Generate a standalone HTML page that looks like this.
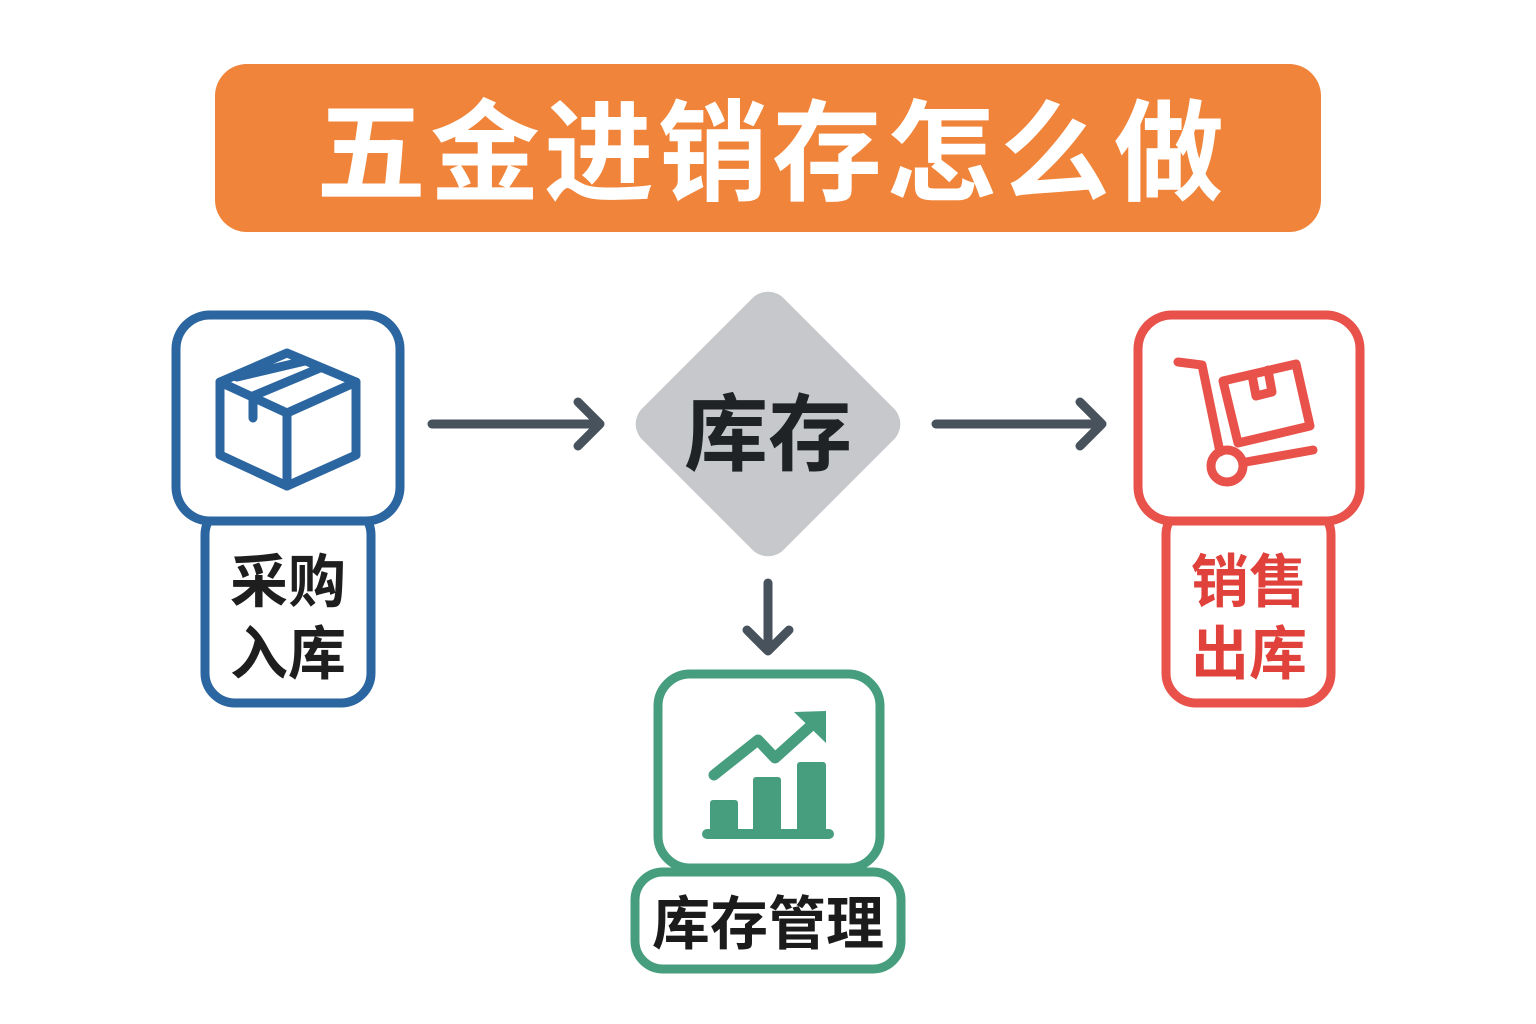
<!DOCTYPE html>
<html><head><meta charset="utf-8"><style>
html,body{margin:0;padding:0;background:#fff;}
svg{display:block;}
text{font-family:"Liberation Sans","Noto Sans CJK SC",sans-serif;font-weight:bold;}
</style></head><body>
<svg width="1536" height="1024" viewBox="0 0 1536 1024" xmlns="http://www.w3.org/2000/svg">
<rect x="0" y="0" width="1536" height="1024" fill="#fff"/>
<!-- Title -->
<rect x="215" y="64" width="1106" height="168" rx="32" fill="#F0843A"/>
<text x="772" y="192" font-size="110" fill="#fff" text-anchor="middle" letter-spacing="4">五金进销存怎么做</text>

<!-- Blue card -->
<g fill="none" stroke="#2B66A0" stroke-width="9" stroke-linejoin="round" stroke-linecap="round">
<rect x="205" y="505" width="166" height="198" rx="30" fill="#fff"/>
<rect x="176" y="315" width="224" height="206" rx="34" fill="#fff"/>
<polygon points="287,353 220,382 220,455 287,486 356,455 356,382"/>
<polyline points="220,382 287,413 356,382"/>
<line x1="287" y1="413" x2="287" y2="486"/>
<line x1="237" y1="377" x2="305" y2="361"/>
<line x1="253" y1="396" x2="320" y2="368"/>
<line x1="253" y1="396" x2="253" y2="418"/>
</g>
<text x="288" y="602" font-size="58" fill="#1e1e1e" text-anchor="middle">采购</text>
<text x="288" y="674" font-size="58" fill="#1e1e1e" text-anchor="middle">入库</text>

<!-- Arrows -->
<g fill="none" stroke="#47525C" stroke-width="9" stroke-linecap="round" stroke-linejoin="round">
<line x1="432" y1="424" x2="598" y2="424"/>
<polyline points="578,402 600,424 578,446"/>
<line x1="936" y1="424" x2="1100" y2="424"/>
<polyline points="1080,402 1102,424 1080,446"/>
<line x1="768" y1="583" x2="768" y2="650"/>
<polyline points="747,630 768,651 789,630"/>
</g>

<!-- Diamond -->
<rect x="668" y="324" width="200" height="200" rx="22" fill="#C6C8CB" transform="rotate(45 768 424)"/>
<text x="768" y="464" font-size="84" fill="#1f2326" text-anchor="middle">库存</text>

<!-- Green card -->
<g fill="none" stroke="#479E7F" stroke-width="9" stroke-linejoin="round" stroke-linecap="round">
<rect x="635" y="872" width="266" height="97" rx="28" fill="#fff"/>
<rect x="658" y="674" width="222" height="194" rx="32" fill="#fff"/>
</g>
<g fill="#479E7F">
<rect x="710" y="800" width="28" height="33" rx="3"/>
<rect x="753" y="777" width="28" height="56" rx="3"/>
<rect x="797" y="762" width="29" height="71" rx="3"/>
<rect x="702" y="829" width="132" height="10" rx="5"/>
<polygon points="794,712 826,711 826,743"/>
</g>
<polyline points="714,775 758,740 775,758 815,722" fill="none" stroke="#479E7F" stroke-width="11" stroke-linecap="round" stroke-linejoin="round"/>
<text x="768" y="944" font-size="58" fill="#1b1b1b" text-anchor="middle">库存管理</text>

<!-- Red card -->
<g fill="none" stroke="#E8524A" stroke-width="9" stroke-linejoin="round" stroke-linecap="round">
<rect x="1166" y="505" width="165" height="198" rx="30" fill="#fff"/>
<rect x="1138" y="315" width="222" height="206" rx="34" fill="#fff"/>
<polyline points="1178,362 1202,365 1220,452"/>
<circle cx="1227" cy="466" r="16"/>
<line x1="1246" y1="462" x2="1313" y2="450"/>
<polygon points="1223,381 1296,364 1310,426 1238,443"/>
<polyline points="1252,375 1256,396 1272,392 1268,370"/>
</g>
<text x="1249" y="602" font-size="58" fill="#E0413A" text-anchor="middle">销售</text>
<text x="1249" y="674" font-size="58" fill="#E0413A" text-anchor="middle">出库</text>
</svg>
</body></html>
